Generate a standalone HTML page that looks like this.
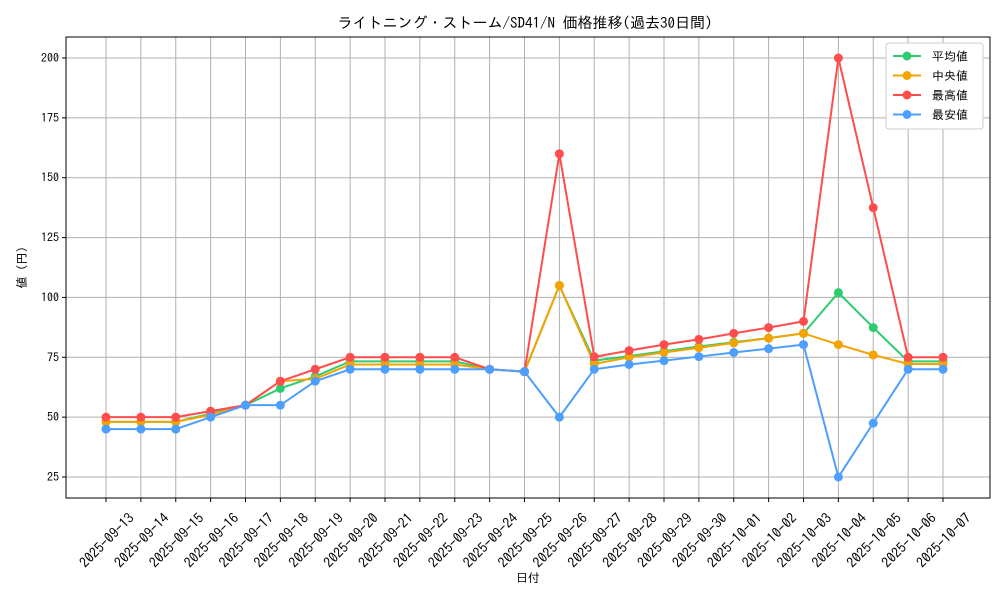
<!DOCTYPE html>
<html><head><meta charset="utf-8"><style>
body{margin:0;background:#fff;}
svg text{font-family:"IPAGothic","Liberation Sans","Noto Sans CJK JP",sans-serif;}
</style></head><body>
<svg id="chart" width="1000" height="600" xmlns="http://www.w3.org/2000/svg"></svg>
<script>
const categories=["2025-09-13","2025-09-14","2025-09-15","2025-09-16","2025-09-17","2025-09-18","2025-09-19","2025-09-20","2025-09-21","2025-09-22","2025-09-23","2025-09-24","2025-09-25","2025-09-26","2025-09-27","2025-09-28","2025-09-29","2025-09-30","2025-10-01","2025-10-02","2025-10-03","2025-10-04","2025-10-05","2025-10-06","2025-10-07"];
const avgValues=[48,48,48,51.5,55,62,67,73.3,73.3,73.3,73.3,70,69,105,73.6,75.5,77.5,79.5,81.3,83,85,102,87.4,73.3,73.3];
const medianValues=[48,48,48,51,55,65,66,72,72,72,72,70,69,105,72.2,75,77,79,81,83,85,80.3,76,72.2,72.2];
const maxValues=[50,50,50,52.5,55,65,70,75,75,75,75,70,69,160,75.2,77.8,80.3,82.5,85,87.4,90,200,137.5,75,75];
const minValues=[45,45,45,50,55,55,65,70,70,70,70,70,69,50,70,72,73.6,75.3,77,78.6,80.3,25,47.5,70,70];
const yTicks=[25,50,75,100,125,150,175,200];
const seriesNames=["平均値","中央値","最高値","最安値"];
const NS="http://www.w3.org/2000/svg";
const svg=document.getElementById('chart');
const L=66,R=990,T=37,B=498;
const x=i=>106+i*(943-106)/(categories.length-1);
const y=v=>477+(v-25)*(58-477)/175;
function el(t,a,p){const e=document.createElementNS(NS,t);for(const k in a)e.setAttribute(k,a[k]);(p||svg).appendChild(e);return e;}
let t=el('text',{x:525,y:28,'text-anchor':'middle','font-size':15});t.textContent="ライトニング・ストーム/SD41/N 価格推移(過去30日間)";


const grid=el('g',{});


categories.forEach((c,i)=>{
el('line',{x1:x(i),x2:x(i),y1:T,y2:B,stroke:'#b0b0b0','stroke-width':1},grid);
el('line',{x1:x(i),x2:x(i),y1:B,y2:B+4,stroke:'#000'});
const lb=el('text',{transform:`translate(${x(i)+29},${B+21}) rotate(-45)`,'text-anchor':'end','font-size':14});
lb.textContent=c;


});
yTicks.forEach(v=>{
el('line',{x1:L,x2:R,y1:y(v),y2:y(v),stroke:'#b0b0b0','stroke-width':1},grid);
el('line',{x1:L-4,x2:L,y1:y(v),y2:y(v),stroke:'#000'});
const lb=el('text',{x:L-7,y:y(v)+4,'text-anchor':'end','font-size':12});lb.textContent=v;


});
const fr=el('rect',{x:L,y:T,width:R-L,height:B-T,fill:'none',stroke:'#000','stroke-width':1});


const xt=el('text',{x:(L+R)/2,y:582,'text-anchor':'middle','font-size':12});xt.textContent="日付";


const yt=el('text',{transform:`translate(26,${(T+B)/2}) rotate(-90)`,'text-anchor':'middle','font-size':12});yt.textContent="値 (円)";


const series=[[avgValues,'#2ecc71'],[medianValues,'#f5a300'],[maxValues,'#ff4d4d'],[minValues,'#4d9fff']];
series.forEach(([vals,col],s)=>{
const g=el('g',{});


el('polyline',{points:vals.map((v,i)=>x(i)+','+y(v)).join(' '),fill:'none',stroke:col,'stroke-width':2},g);
vals.forEach((v,i)=>{const c=el('circle',{cx:x(i),cy:y(v),r:4.5,fill:col},g);

});
});
const lg=el('g',{});


el('rect',{x:886,y:43,width:97,height:86,rx:3,fill:'#fff',stroke:'#ccc'},lg);
series.forEach(([v,col],s)=>{
const yy=56+s*19.5;
el('line',{x1:893,x2:921,y1:yy,y2:yy,stroke:col,'stroke-width':2},lg);
el('circle',{cx:907,cy:yy,r:4.5,fill:col},lg);
const lt=el('text',{x:932,y:yy+4.5,'font-size':12},lg);lt.textContent=seriesNames[s];


});
</script>
</body></html>
